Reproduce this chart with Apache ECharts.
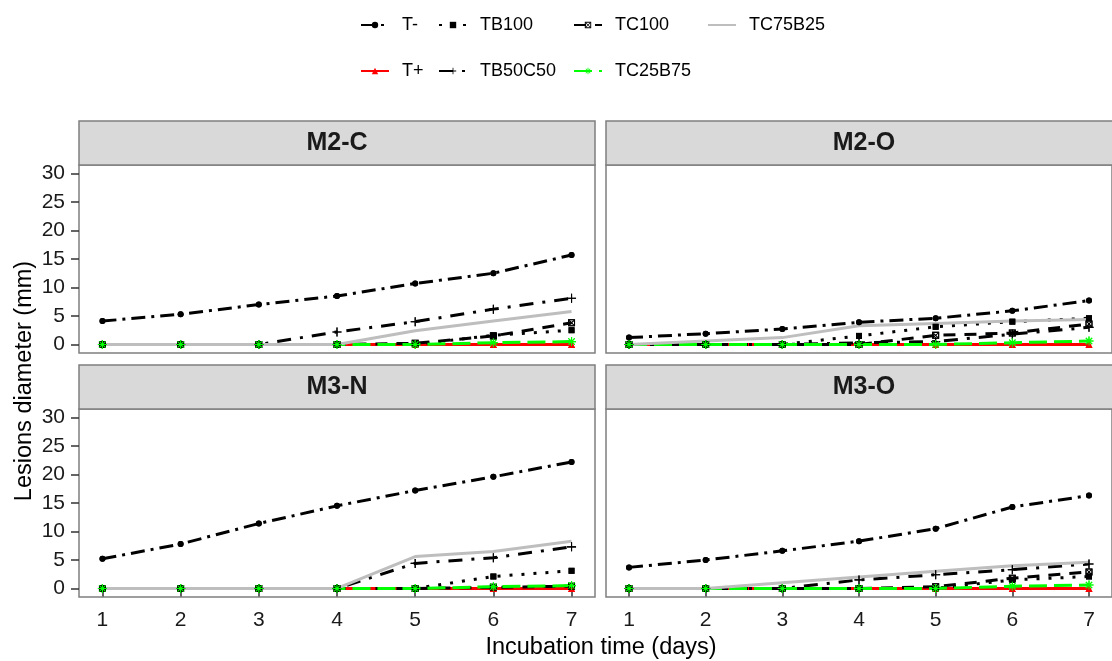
<!DOCTYPE html>
<html>
<head>
<meta charset="utf-8">
<script src="https://cdn.jsdelivr.net/npm/echarts@6/dist/echarts.min.js"></script>
<style>html,body{margin:0;padding:0;background:#fff;}#c{width:1112px;height:661px;}</style>
</head>
<body>
<div id="c"></div>
<script>
// ---- data ----
const days = [1, 2, 3, 4, 5, 6, 7];
const treatments = ['T-', 'T+', 'TB100', 'TB50C50', 'TC100', 'TC25B75', 'TC75B25'];
const panels = ['M2-C', 'M2-O', 'M3-N', 'M3-O'];
const yTicks = [0, 5, 10, 15, 20, 25, 30];
const xTicks = [1, 2, 3, 4, 5, 6, 7];

// values per treatment, in the order of `treatments`
const M2C = [
  [4.1, 5.3, 7.0, 8.5, 10.7, 12.5, 15.7],
  [0, 0, 0, 0, 0, 0, 0],
  [0, 0, 0, 0, 0, 1.6, 2.5],
  [0, 0, 0, 2.2, 4.0, 6.2, 8.1],
  [0, 0, 0, 0, 0.2, 1.5, 3.8],
  [0, 0, 0, 0, 0, 0.3, 0.5],
  [0, 0, 0, 0, 2.4, 4.1, 5.8]
];
const M2O = [
  [1.2, 1.9, 2.7, 3.9, 4.6, 5.9, 7.7],
  [0, 0, 0, 0, 0, 0, 0],
  [0, 0, 0, 1.5, 3.1, 4.0, 4.6],
  [0, 0, 0, 0.3, 0.5, 1.8, 3.0],
  [0, 0, 0, 0, 1.6, 2.0, 3.6],
  [0, 0, 0, 0, 0, 0.3, 0.6],
  [0, 0.6, 1.2, 3.3, 3.7, 4.1, 4.4]
];
const M3N = [
  [5.2, 7.8, 11.4, 14.5, 17.2, 19.6, 22.2],
  [0, 0, 0, 0, 0, 0, 0],
  [0, 0, 0, 0, 0, 2.1, 3.1],
  [0, 0, 0, 0, 4.4, 5.4, 7.3],
  [0, 0, 0, 0, 0, 0.2, 0.4],
  [0, 0, 0, 0, 0, 0.3, 0.5],
  [0, 0, 0, 0, 5.6, 6.5, 8.3]
];
const M3O = [
  [3.7, 5.0, 6.6, 8.3, 10.5, 14.3, 16.3],
  [0, 0, 0, 0, 0, 0, 0],
  [0, 0, 0, 0, 0, 1.5, 2.1],
  [0, 0, 0, 1.5, 2.4, 3.3, 4.3],
  [0, 0, 0, 0, 0.3, 1.8, 2.9],
  [0, 0, 0, 0, 0, 0.4, 0.6],
  [0, 0, 1.0, 2.0, 3.0, 4.0, 4.6]
];
const panelData = [M2C, M2O, M3N, M3O];

// ---- styles ----
const FONT = "'Liberation Sans', Arial, sans-serif";
const PLUS = 'path://M-0.12,-1 L0.12,-1 L0.12,1 L-0.12,1 Z M-1,-0.12 L1,-0.12 L1,0.12 L-1,0.12 Z';
const STAR = 'path://M-0.12,-1 L0.12,-1 L0.12,1 L-0.12,1 Z M-1,-0.12 L1,-0.12 L1,0.12 L-1,0.12 Z ' +
  'M-0.78,-0.62 L-0.62,-0.78 L0.78,0.62 L0.62,0.78 Z M0.62,-0.78 L0.78,-0.62 L-0.62,0.78 L-0.78,0.62 Z';
const BOXX = 'path://M-1,-1 L1,-1 L1,1 L-1,1 Z M-0.7,-0.7 L-0.7,0.7 L0.7,0.7 L0.7,-0.7 Z ' +
  'M-0.7,-0.55 L-0.55,-0.7 L0.7,0.55 L0.55,0.7 Z M0.55,-0.7 L0.7,-0.55 L-0.55,0.7 L-0.7,0.55 Z';
const styles = {
  'T-':      { color: '#000000', dash: [14, 6, 3, 6], symbol: 'circle', size: 6 },
  'T+':      { color: '#FF0000', dash: 'solid', symbol: 'triangle', size: 7 },
  'TB100':   { color: '#000000', dash: [3, 9], symbol: 'rect', size: 6 },
  'TB50C50': { color: '#000000', dash: [14, 9, 3, 9], symbol: PLUS, size: 9 },
  'TC100':   { color: '#000000', dash: [12, 9], symbol: BOXX, size: 7 },
  'TC25B75': { color: '#00FF00', dash: [18, 7], symbol: STAR, size: 9 },
  'TC75B25': { color: '#BEBEBE', dash: 'solid', symbol: 'none', size: 0 }
};

// ---- layout ----
const grids = [
  { left: 79, top: 165, width: 516, height: 188 },
  { left: 606, top: 165, width: 519, height: 188 },
  { left: 79, top: 409, width: 516, height: 188 },
  { left: 606, top: 409, width: 519, height: 188 }
];

const option = {
  animation: false,
  backgroundColor: '#ffffff',
  grid: grids.map(g => Object.assign({ show: true, borderColor: '#7F7F7F', borderWidth: 1.5, backgroundColor: '#ffffff', containLabel: false }, g)),
  xAxis: grids.map((g, i) => ({
    type: 'value', gridIndex: i, min: 0.7, max: 7.3,
    axisLine: { show: false },
    splitLine: { show: false },
    axisTick: { show: i >= 2, length: 8, lineStyle: { color: '#333333', width: 1.5 }, customValues: xTicks },
    axisLabel: { show: i >= 2, customValues: xTicks, margin: 13, fontSize: 21, color: '#1a1a1a', fontFamily: FONT }
  })),
  yAxis: grids.map((g, i) => ({
    type: 'value', gridIndex: i, min: -1.5, max: 31.5,
    axisLine: { show: false },
    splitLine: { show: false },
    axisTick: { show: i % 2 === 0, length: 8, lineStyle: { color: '#333333', width: 1.5 }, customValues: yTicks },
    axisLabel: { show: i % 2 === 0, customValues: yTicks, margin: 14, fontSize: 21, color: '#1a1a1a', fontFamily: FONT }
  })),
  legend: [
    ['T-', 'T+', 360],
    ['TB100', 'TB50C50', 438],
    ['TC100', 'TC25B75', 573],
    ['TC75B25', null, 707]
  ].map(c => ({
    data: [c[0], c[1]].filter(Boolean).map(n => n === 'TC75B25'
      ? { name: n, itemStyle: { color: 'rgba(0,0,0,0)', borderWidth: 0 } }
      : { name: n }),
    orient: 'vertical', left: c[2], top: 16, itemGap: 28, padding: 0,
    itemWidth: 28, itemHeight: 8, selectedMode: false,
    textStyle: { fontSize: 18, color: '#000', fontFamily: FONT, padding: [0, 0, 0, 8] }
  })),
  graphic: [],
  series: []
};

// lines (with symbols for legend icons)
panels.forEach((p, pi) => {
  treatments.forEach((t, ti) => {
    const s = styles[t];
    option.series.push({
      name: t, type: 'line', xAxisIndex: pi, yAxisIndex: pi,
      data: days.map((d, k) => [d, panelData[pi][ti][k]]),
      symbol: s.symbol, symbolSize: s.size, showSymbol: s.symbol !== 'none',
      lineStyle: { color: s.color, width: 3, type: s.dash, cap: 'butt' },
      itemStyle: { color: s.color, borderWidth: 0 },
      z: 2, silent: true
    });
  });
});
// points on top of all lines
panels.forEach((p, pi) => {
  treatments.forEach((t, ti) => {
    const s = styles[t];
    if (s.symbol === 'none') return;
    option.series.push({
      name: t, type: 'scatter', xAxisIndex: pi, yAxisIndex: pi,
      data: days.map((d, k) => [d, panelData[pi][ti][k]]),
      symbol: s.symbol, symbolSize: s.size,
      itemStyle: { color: s.color, opacity: 1 },
      z: 3, silent: true
    });
  });
});

// strips
grids.forEach((g, i) => {
  option.graphic.push({
    type: 'rect', z: 10,
    shape: { x: g.left, y: g.top - 44, width: g.width, height: 44 },
    style: { fill: '#D9D9D9', stroke: '#7F7F7F', lineWidth: 1.5 }
  });
  option.graphic.push({
    type: 'text', z: 11,
    x: g.left + 516 / 2, y: g.top - 22,
    style: { text: panels[i], fill: '#1a1a1a', font: 'bold 25px ' + FONT, textAlign: 'center', textVerticalAlign: 'middle' }
  });
});
// axis titles
option.graphic.push({
  type: 'text', z: 11, x: 601, y: 648,
  style: { text: 'Incubation time (days)', fill: '#000', font: '23.5px ' + FONT, textAlign: 'center', textVerticalAlign: 'middle' }
});
option.graphic.push({
  type: 'text', z: 11, x: 25, y: 381, rotation: Math.PI / 2,
  style: { text: 'Lesions diameter (mm)', fill: '#000', font: '23.5px ' + FONT, textAlign: 'center', textVerticalAlign: 'middle' }
});

const chart = echarts.init(document.getElementById('c'), null, { renderer: 'canvas' });
chart.setOption(option);
</script>
</body>
</html>
